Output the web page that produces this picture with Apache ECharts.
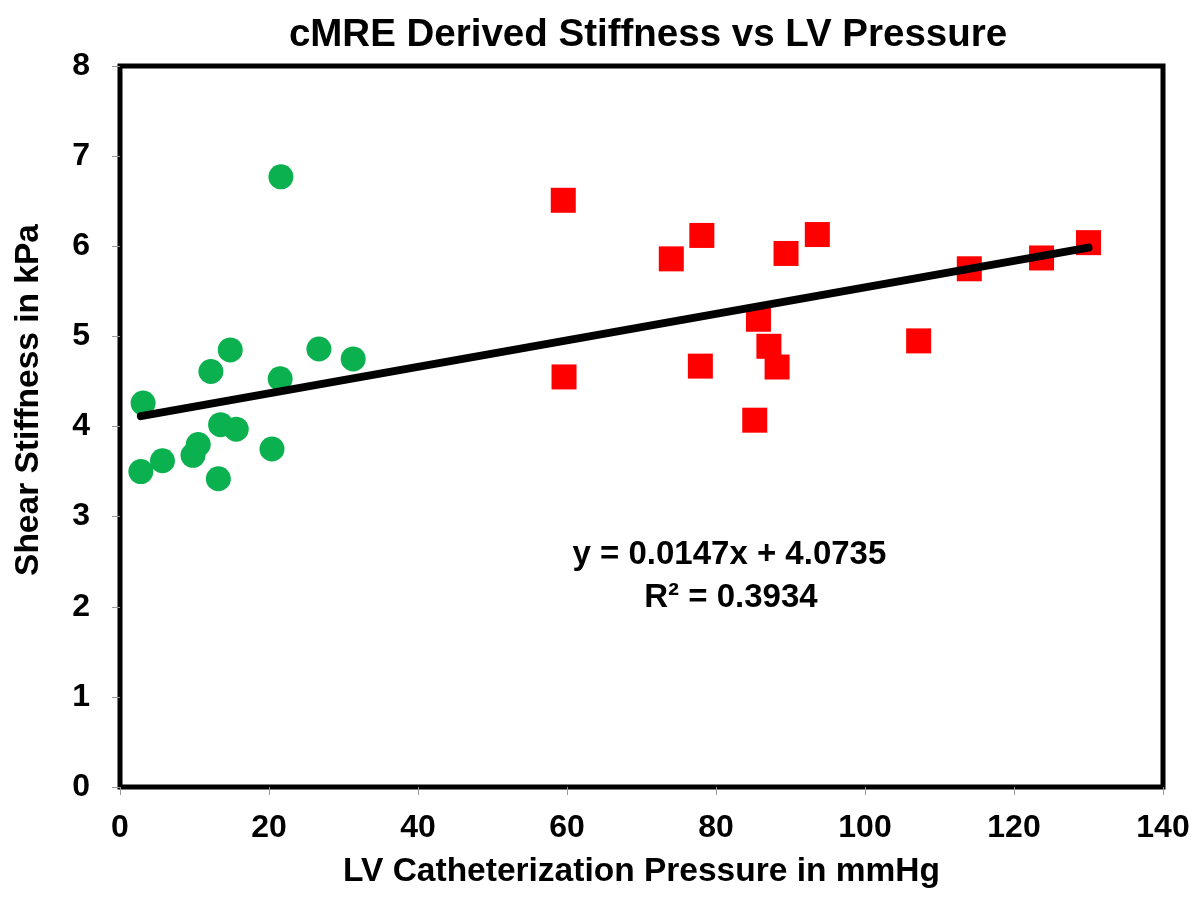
<!DOCTYPE html>
<html>
<head>
<meta charset="utf-8">
<script src="https://cdn.jsdelivr.net/npm/echarts@6/dist/echarts.min.js"></script>
<style>html,body{margin:0;padding:0;background:#fff}#c{width:1200px;height:900px}</style>
</head>
<body>
<div id="c"></div>
<script>
// Data
const lowPressureX = [3.1, 12.2, 14.8, 21.5, 26.7, 31.3, 13.5, 15.6, 10.5, 9.8, 5.7, 2.8, 13.2, 20.4, 21.6];
const lowPressureY = [4.26, 4.61, 4.85, 4.53, 4.86, 4.75, 4.02, 3.97, 3.80, 3.68, 3.62, 3.50, 3.42, 3.75, 6.77];
const highPressureX = [59.5, 59.6, 74.0, 78.1, 77.9, 89.4, 93.6, 85.7, 87.1, 88.2, 85.2, 107.2, 114.0, 123.7, 130.0];
const highPressureY = [6.51, 4.55, 5.86, 6.12, 4.67, 5.92, 6.13, 5.19, 4.89, 4.66, 4.07, 4.95, 5.75, 5.87, 6.04];
const trendSlope = 0.0147;
const trendIntercept = 4.0735;
const rSquared = 0.3934;
const xTicks = [0, 20, 40, 60, 80, 100, 120, 140];
const yTicks = [0, 1, 2, 3, 4, 5, 6, 7, 8];

const FONT = 'Arial, "Liberation Sans", Helvetica, sans-serif';
const lowPts = lowPressureX.map((x, i) => [x, lowPressureY[i]]);
const highPts = highPressureX.map((x, i) => [x, highPressureY[i]]);
const allX = lowPressureX.concat(highPressureX);
const xMin = Math.min(...allX), xMax = Math.max(...allX);
const trendPts = [[xMin, trendSlope * xMin + trendIntercept], [xMax, trendSlope * xMax + trendIntercept]];

const chart = echarts.init(document.getElementById('c'), null, {renderer: 'canvas'});
chart.setOption({
  animation: false,
  backgroundColor: '#ffffff',
  title: {
    text: 'cMRE Derived Stiffness vs LV Pressure',
    left: 643, top: 11, textAlign: 'center',
    textStyle: {fontFamily: FONT, fontWeight: 'bold', fontSize: 38.5, color: '#000'}
  },
  grid: {left: 120, right: 37, top: 66, bottom: 113, show: true, borderColor: '#000', borderWidth: 5, backgroundColor: 'transparent'},
  xAxis: {
    type: 'value', min: xTicks[0], max: xTicks[xTicks.length - 1], interval: 20,
    name: 'LV Catheterization Pressure in mmHg', nameLocation: 'middle', nameGap: 68,
    nameTextStyle: {fontFamily: FONT, fontWeight: 'bold', fontSize: 33.5, color: '#000'},
    axisLine: {show: false},
    axisTick: {show: true, length: 8, lineStyle: {color: '#999', width: 1}},
    axisLabel: {margin: 25, fontFamily: FONT, fontWeight: 'bold', fontSize: 32, color: '#000'},
    splitLine: {show: false}
  },
  yAxis: {
    type: 'value', min: yTicks[0], max: yTicks[yTicks.length - 1], interval: 1,
    axisLine: {show: false},
    axisTick: {show: true, length: 8, lineStyle: {color: '#999', width: 1}},
    axisLabel: {margin: 30, fontFamily: FONT, fontWeight: 'bold', fontSize: 32, color: '#000'},
    splitLine: {show: false}
  },
  series: [
    {type: 'line', data: trendPts, showSymbol: false, symbol: 'none', z: 3,
     lineStyle: {color: '#000', width: 8, cap: 'round'}},
    {type: 'scatter', data: lowPts, symbol: 'circle', symbolSize: 25, z: 2,
     itemStyle: {color: '#0bb04f', opacity: 1}},
    {type: 'scatter', data: highPts, symbol: 'rect', symbolSize: 25, z: 2,
     itemStyle: {color: '#ff0000', opacity: 1}}
  ]
});

// equation label placed at data coordinates
const eqPos = chart.convertToPixel({gridIndex: 0}, [81.8, 2.57]);
const r2Pos = chart.convertToPixel({gridIndex: 0}, [82, 2.1]);
chart.setOption({
  graphic: [
    {type: 'text', x: eqPos[0], y: eqPos[1], style: {text: 'y = ' + trendSlope + 'x + ' + trendIntercept, fontFamily: FONT, fontWeight: 'bold', fontSize: 33, fill: '#000', textAlign: 'center', textVerticalAlign: 'middle'}},
    {type: 'text', x: r2Pos[0], y: r2Pos[1], style: {text: 'R\u00B2 = ' + rSquared, fontFamily: FONT, fontWeight: 'bold', fontSize: 33, fill: '#000', textAlign: 'center', textVerticalAlign: 'middle'}},
    {type: 'text', x: 29, y: 400, rotation: Math.PI / 2, style: {text: 'Shear Stiffness in kPa', fontFamily: FONT, fontWeight: 'bold', fontSize: 33.5, fill: '#000', textAlign: 'center', textVerticalAlign: 'middle'}}
  ]
});
</script>
</body>
</html>
